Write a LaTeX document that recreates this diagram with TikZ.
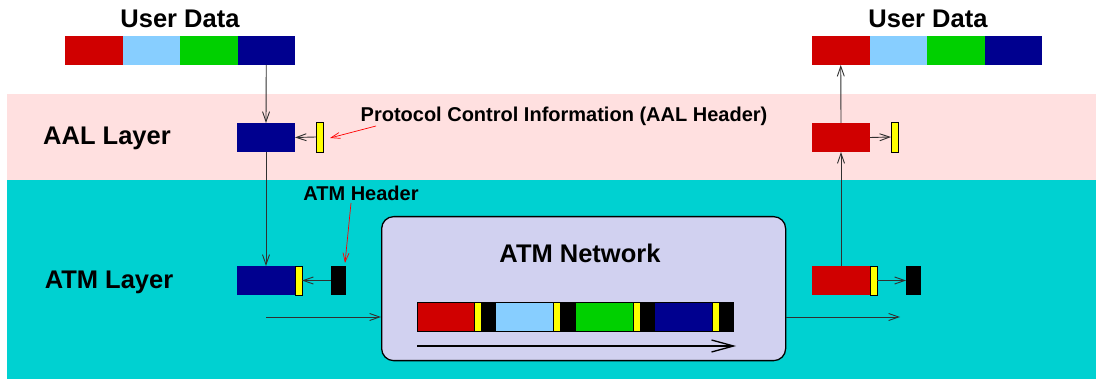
\documentclass[tikz,border=0pt]{standalone}
\usepackage{fontspec}
\setmainfont{Liberation Sans}
\usetikzlibrary{arrows.meta}
\definecolor{cred}{HTML}{D00000}
\definecolor{clblue}{HTML}{87CEFF}
\definecolor{cgreen}{HTML}{00D000}
\definecolor{cdblue}{HTML}{00008F}
\definecolor{cyel}{HTML}{FFFF00}
\definecolor{cpink}{HTML}{FFE0E0}
\definecolor{ccyan}{HTML}{00D1D1}
\definecolor{clav}{HTML}{D1D1F0}
\definecolor{cline}{HTML}{303030}
\tikzset{
  seg/.style={rectangle, inner sep=0pt, outer sep=0pt, anchor=north west, minimum width=57.5pt, minimum height=29pt},
  hdr/.style={seg, draw=black, line width=0.6pt, fill=cyel, minimum width=7pt},
  blk/.style={seg, fill=black, minimum width=15pt},
  flow/.style={draw=cline, line width=0.9pt, -{Straight Barb[length=10pt,width=7pt,line width=0.9pt]}},
  bigflow/.style={draw=black, line width=1.3pt, -{Straight Barb[length=22pt,width=12pt,line width=1.3pt]}},
  redflow/.style={draw=red, line width=0.7pt, -{Straight Barb[length=9pt,width=6pt,line width=0.7pt]}},
  bigtxt/.style={font=\bfseries\fontsize{25.5}{30}\selectfont, inner sep=0pt},
  smtxt/.style={font=\bfseries\fontsize{20}{24}\selectfont, inner sep=0pt},
}
\begin{document}
\begin{tikzpicture}[x=1pt,y=-1pt]
\useasboundingbox (0,0) rectangle (1096,379);
% bands
\fill[cpink] (7,94) rectangle (1096,180);
\fill[ccyan] (7,180) rectangle (1096,379);
% network box
\node[draw=black, line width=1.3pt, fill=clav, rounded corners=12pt, minimum width=404pt, minimum height=144pt, inner sep=0pt, anchor=north west] (net) at (381,216) {};
\node[bigtxt] (nettxt) at (580,253) {ATM Network};
% labels
\node[bigtxt] (ud1txt) at (180,19) {User Data};
\node[bigtxt] (ud2txt) at (928,19) {User Data};
\node[bigtxt] (aaltxt) at (107,138) {AAL Layer};
\node[bigtxt] (atmtxt) at (109,282) {ATM Layer};
\node[smtxt] (pcitxt) at (564,116) {Protocol Control Information (AAL Header)};
\node[smtxt] (ahtxt) at (361,193) {ATM Header};
% top-left user data
\node[seg, fill=cred] (ud1a) at (65,36) {};
\node[seg, fill=clblue] (ud1b) at (122.5,36) {};
\node[seg, fill=cgreen] (ud1c) at (180,36) {};
\node[seg, fill=cdblue] (ud1d) at (237.5,36) {};
% top-right user data
\node[seg, fill=cred] (ud2a) at (812,36) {};
\node[seg, fill=clblue] (ud2b) at (869.5,36) {};
\node[seg, fill=cgreen] (ud2c) at (927,36) {};
\node[seg, fill=cdblue] (ud2d) at (984.5,36) {};
% AAL left
\node[seg, fill=cdblue, minimum width=58pt] (aalb) at (237,123) {};
\node[hdr, minimum height=30pt] (aaly) at (316,122) {};
% AAL right
\node[seg, fill=cred, minimum width=58pt] (aalr) at (812,123) {};
\node[hdr, minimum height=30pt] (aalry) at (891,122) {};
% ATM left
\node[seg, fill=cdblue, minimum width=58pt] (atmb) at (237,266) {};
\node[hdr] (atmy) at (295,266) {};
\node[blk] (atmk) at (331,266) {};
% ATM right
\node[seg, fill=cred, minimum width=58pt] (atmr) at (812,266) {};
\node[hdr] (atmry) at (870,266) {};
\node[blk] (atmrk) at (906,266) {};
% stream inside network
\node[seg, fill=cred, minimum width=57pt] (s1) at (417,302) {};
\node[hdr] (s1y) at (474,302) {};
\node[blk, minimum width=14pt] (s1k) at (482,302) {};
\node[seg, fill=clblue, minimum width=57pt] (s2) at (496,302) {};
\node[hdr] (s2y) at (553,302) {};
\node[blk, minimum width=15pt] (s2k) at (561,302) {};
\node[seg, fill=cgreen, minimum width=57pt] (s3) at (576,302) {};
\node[hdr] (s3y) at (633,302) {};
\node[blk, minimum width=14pt] (s3k) at (641,302) {};
\node[seg, fill=cdblue, minimum width=57pt] (s4) at (655,302) {};
\node[hdr] (s4y) at (712,302) {};
\node[blk, minimum width=13pt] (s4k) at (720,302) {};
\draw[black, line width=0.6pt] (s1.north west) rectangle (s4k.south east);
% coordinates
\coordinate (inL) at (266,317);
\coordinate (outR) at (900,317);
\coordinate (sA) at (417,346);
\coordinate (sB) at (736,346);
\coordinate (pciS) at (376,126);
\coordinate (pciE) at (330,138);
\coordinate (ahS) at (351,203);
\coordinate (ahE) at (345,263);
% connectors
\draw[flow] (ud1d.south) -- (aalb.north);
\draw[flow] (aalb.south) -- (atmb.north);
\draw[flow] (aaly.west) -- (aalb.east);
\draw[flow] (atmk.west) -- (atmy.east);
\draw[flow] (inL) -- (inL -| net.west);
\draw[flow] (outR -| net.east) -- (outR);
\draw[bigflow] (sA) -- (sB);
\draw[flow] (atmr.north) -- (aalr.south);
\draw[flow] (aalr.north) -- (ud2a.south);
\draw[flow] (aalr.east) -- (aalry.west);
\draw[flow] (atmry.east) -- (atmrk.west);
\draw[redflow] (pciS) -- (pciE);
\draw[redflow] (ahS) -- (ahE);
\end{tikzpicture}
\end{document}
